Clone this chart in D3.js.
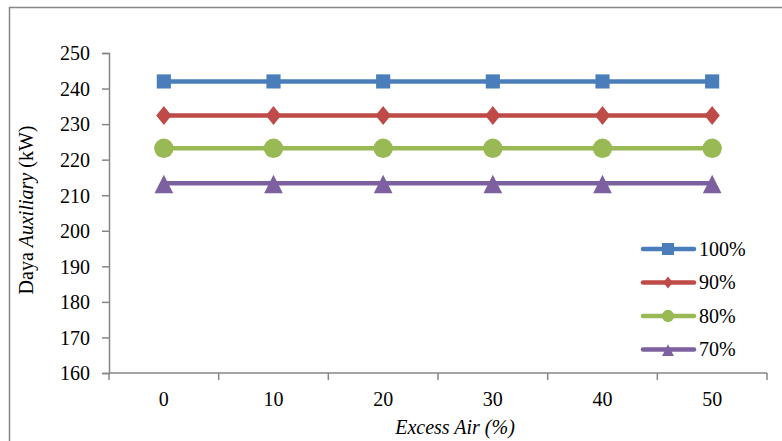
<!DOCTYPE html>
<html>
<head>
<meta charset="utf-8">
<script src="https://cdn.jsdelivr.net/npm/d3@7"></script>
<style>
  html, body { margin: 0; padding: 0; background: #fff; }
  svg { display: block; }
</style>
</head>
<body>
<svg id="chart" width="782" height="441"></svg>
<script>
// Excess air levels (%) on the x axis
const categories = [0, 10, 20, 30, 40, 50];
// Auxiliary power (kW) per load level
const load100 = [242, 242, 242, 242, 242, 242];
const load90 = [232.4, 232.4, 232.4, 232.4, 232.4, 232.4];
const load80 = [223.2, 223.2, 223.2, 223.2, 223.2, 223.2];
const load70 = [213.4, 213.4, 213.4, 213.4, 213.4, 213.4];
const seriesNames = ["100%", "90%", "80%", "70%"];
const yTicks = [160, 170, 180, 190, 200, 210, 220, 230, 240, 250];

const series = [
  { name: seriesNames[0], values: load100, color: "#4A7EBB", symbol: "square" },
  { name: seriesNames[1], values: load90, color: "#BE4B48", symbol: "diamond" },
  { name: seriesNames[2], values: load80, color: "#98B954", symbol: "circle" },
  { name: seriesNames[3], values: load70, color: "#7D60A0", symbol: "triangle" }
];

const svg = d3.select("#chart");
const axisColor = "#868686";
const fontSize = 20;
const serif = "Liberation Serif";

// Outer chart frame (extends past the right and bottom edges)
svg.append("rect")
  .attr("x", 9.5).attr("y", 7.5)
  .attr("width", 800).attr("height", 460)
  .attr("fill", "none").attr("stroke", axisColor).attr("stroke-width", 1.5);

const plot = { left: 109, right: 767, top: 53, bottom: 373 };

const x = d3.scaleBand().domain(categories).range([plot.left, plot.right]);
const y = d3.scaleLinear().domain([160, 250]).range([plot.bottom, plot.top]);

// Y axis
const yAxis = svg.append("g")
  .attr("transform", `translate(${plot.left},0)`)
  .call(d3.axisLeft(y).tickValues(yTicks).tickSize(7).tickPadding(12).tickFormat(d3.format("d")));
yAxis.attr("font-family", serif).attr("font-size", fontSize);
yAxis.select(".domain").attr("stroke", axisColor).attr("stroke-width", 1.5);
yAxis.selectAll(".tick line").attr("stroke", axisColor).attr("stroke-width", 1.5);
yAxis.selectAll(".tick text")
  .attr("fill", "#000")
  .attr("font-family", serif)
  .attr("font-size", fontSize)
  .attr("dy", "0.34em");

// X axis with ticks between categories
const xAxisG = svg.append("g").attr("transform", `translate(0,${plot.bottom})`);
xAxisG.append("line")
  .attr("x1", plot.left).attr("x2", plot.right)
  .attr("stroke", axisColor).attr("stroke-width", 1.5);
const boundaries = categories.map(c => x(c)).concat([x(categories[categories.length - 1]) + x.bandwidth()]);
xAxisG.selectAll("line.tk").data(boundaries).join("line")
  .attr("class", "tk")
  .attr("x1", d => d).attr("x2", d => d)
  .attr("y1", 0).attr("y2", 7)
  .attr("stroke", axisColor).attr("stroke-width", 1.5);
xAxisG.selectAll("text").data(categories).join("text")
  .attr("x", d => x(d) + x.bandwidth() / 2)
  .attr("y", 33)
  .attr("text-anchor", "middle")
  .attr("font-family", serif)
  .attr("font-size", fontSize)
  .attr("fill", "#000")
  .text(d => d);

// Axis titles
svg.append("text")
  .attr("x", 455).attr("y", 434)
  .attr("text-anchor", "middle")
  .attr("font-family", serif)
  .attr("font-size", fontSize)
  .attr("font-style", "italic")
  .text("Excess Air (%)");

const yt = svg.append("text")
  .attr("transform", "translate(33,210) rotate(-90)")
  .attr("text-anchor", "middle")
  .attr("font-family", serif)
  .attr("font-size", fontSize);
yt.append("tspan").text("Daya ");
yt.append("tspan").attr("font-style", "italic").text("Auxiliary");
yt.append("tspan").text(" (kW)");

const symbolSize = { square: 200, diamond: 120, circle: 295, triangle: 200 };
const symbolType = {
  square: d3.symbolSquare, diamond: d3.symbolDiamond,
  circle: d3.symbolCircle, triangle: d3.symbolTriangle
};

function drawMarker(g, s, cx, cy, scale) {
  const size = symbolSize[s.symbol] * scale;
  const p = g.append("path")
    .attr("d", d3.symbol().type(symbolType[s.symbol]).size(size)())
    .attr("fill", s.color);
  if (s.symbol === "diamond") {
    p.attr("transform", `translate(${cx},${cy}) scale(1.3,0.93)`);
  } else if (s.symbol === "triangle") {
    const k = Math.sqrt(scale);
    p.attr("transform", `translate(${cx},${cy + 4 * k}) scale(0.87,1)`);
  } else {
    p.attr("transform", `translate(${cx},${cy})`);
  }
}

const line = d3.line()
  .x((d, i) => x(categories[i]) + x.bandwidth() / 2)
  .y(d => y(d));

series.forEach(s => {
  const g = svg.append("g");
  g.append("path")
    .datum(s.values)
    .attr("d", line)
    .attr("fill", "none")
    .attr("stroke", s.color)
    .attr("stroke-width", 4.5)
    .attr("stroke-linecap", "round");
  s.values.forEach((v, i) => {
    drawMarker(g, s, x(categories[i]) + x.bandwidth() / 2, y(v), 1);
  });
});

// Legend
const legend = svg.append("g");
series.forEach((s, i) => {
  const ly = 249 + i * 33.5;
  legend.append("line")
    .attr("x1", 643).attr("x2", 694)
    .attr("y1", ly).attr("y2", ly)
    .attr("stroke", s.color).attr("stroke-width", 4.5)
    .attr("stroke-linecap", "round");
  drawMarker(legend, s, 668, ly, s.symbol === "square" ? 0.72 : 0.4);
  legend.append("text")
    .attr("x", 699).attr("y", ly + 6.5)
    .attr("font-family", serif)
    .attr("font-size", fontSize)
    .attr("fill", "#000")
    .text(s.name);
});
</script>
</body>
</html>
